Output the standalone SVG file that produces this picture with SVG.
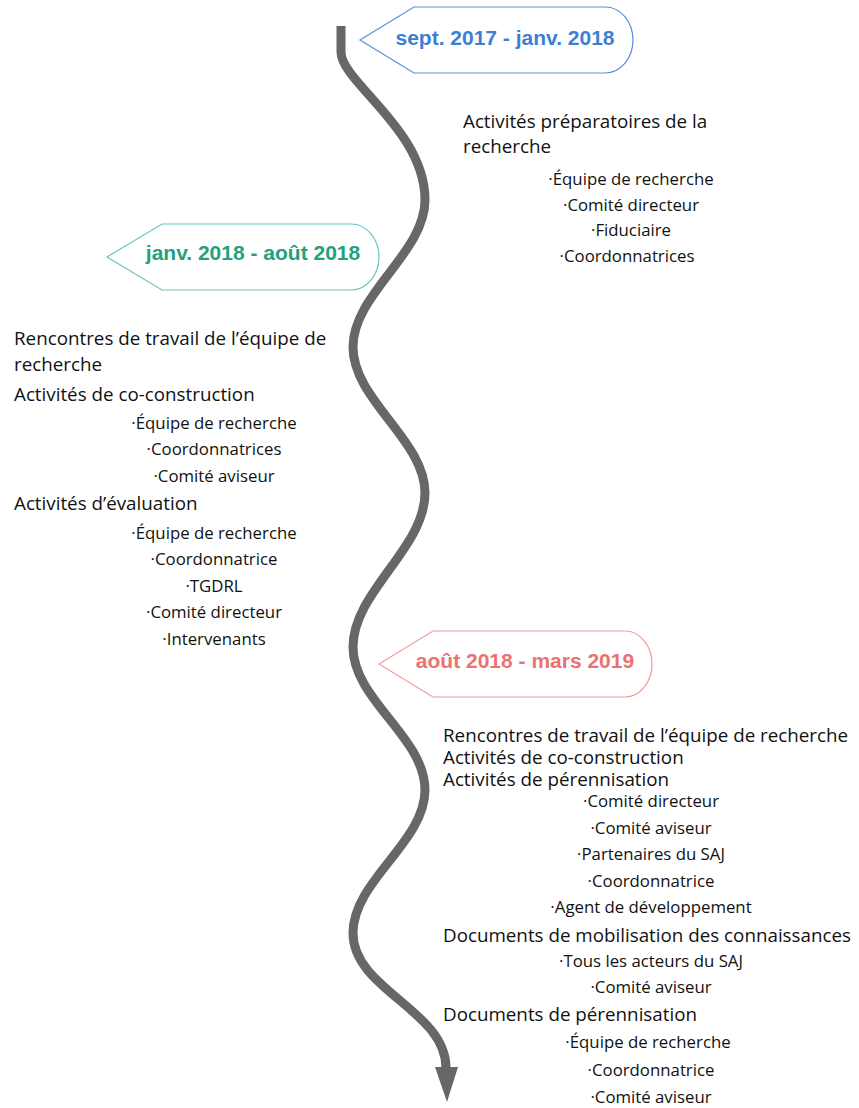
<svg xmlns="http://www.w3.org/2000/svg" width="859" height="1108" viewBox="0 0 859 1108">
<style>
.lbl{font-family:"Liberation Sans",Arial,sans-serif;font-weight:bold;font-size:21px}
.t{font-family:"Open Sans",Lato,sans-serif;font-size:18.8px;fill:#111}
.b{font-family:"Open Sans",Lato,sans-serif;font-size:16.8px;fill:#111;text-anchor:middle}
.tl{fill:none;stroke:#676767;stroke-width:9}
</style>
<rect width="859" height="1108" fill="#fff"/>
<g id="connectors">
<path class="tl" d="M341,26 L341,52 C341,82 425,130 425,200 C425,253 353,294 353,347 C353,400 425,440 425,493 C425,548 353,592 353,647 C353,700 425,737 425,790 C425,842 353,881 353,933 C353,990 446,1010 446,1068"/>
<polygon points="435,1067 458,1067 447,1102" fill="#676767"/>
</g>
<g id="label1">
<path d="M360,40 L414,7 L605,7 A28,33 0 0 1 605,73 L414,73 Z" fill="#fff" stroke="#5b8fd9" stroke-width="1.2"/>
<text class="lbl" x="505" y="45" text-anchor="middle" fill="#3c7fd4">sept. 2017 - janv. 2018</text>
</g>
<g id="label2">
<path d="M107,257 L162,224 L351,224 A28,33 0 0 1 351,290 L162,290 Z" fill="#fff" stroke="#6cc3c3" stroke-width="1.2"/>
<text class="lbl" x="253" y="260" text-anchor="middle" fill="#23a07d">janv. 2018 - août 2018</text>
</g>
<g id="label3">
<path d="M379,664 L433,631 L625,631 A27,33 0 0 1 625,697 L433,697 Z" fill="#fff" stroke="#f09a9a" stroke-width="1.2"/>
<text class="lbl" x="525" y="668" text-anchor="middle" fill="#ec7272">août 2018 - mars 2019</text>
</g>
<g id="group1">
<text class="t" x="463" y="128">Activités préparatoires de la</text>
<text class="t" x="463" y="153">recherche</text>
<text class="b" x="631" y="185">·Équipe de recherche</text>
<text class="b" x="631" y="211">·Comité directeur</text>
<text class="b" x="631" y="236">·Fiduciaire</text>
<text class="b" x="627" y="262">·Coordonnatrices</text>
</g>
<g id="group2">
<text class="t" x="14" y="345">Rencontres de travail de l’équipe de</text>
<text class="t" x="14" y="371">recherche</text>
<text class="t" x="14" y="401">Activités de co-construction</text>
<text class="b" x="214" y="429">·Équipe de recherche</text>
<text class="b" x="214" y="455">·Coordonnatrices</text>
<text class="b" x="214" y="482">·Comité aviseur</text>
<text class="t" x="14" y="510">Activités d’évaluation</text>
<text class="b" x="214" y="539">·Équipe de recherche</text>
<text class="b" x="214" y="565">·Coordonnatrice</text>
<text class="b" x="214" y="592">·TGDRL</text>
<text class="b" x="214" y="618">·Comité directeur</text>
<text class="b" x="214" y="645">·Intervenants</text>
</g>
<g id="group3">
<text class="t" x="443" y="742">Rencontres de travail de l’équipe de recherche</text>
<text class="t" x="443" y="764">Activités de co-construction</text>
<text class="t" x="443" y="786">Activités de pérennisation</text>
<text class="b" x="651" y="807">·Comité directeur</text>
<text class="b" x="651" y="834">·Comité aviseur</text>
<text class="b" x="651" y="860">·Partenaires du SAJ</text>
<text class="b" x="651" y="887">·Coordonnatrice</text>
<text class="b" x="651" y="913">·Agent de développement</text>
<text class="t" x="443" y="942">Documents de mobilisation des connaissances</text>
<text class="b" x="651" y="967">·Tous les acteurs du SAJ</text>
<text class="b" x="651" y="993">·Comité aviseur</text>
<text class="t" x="443" y="1021">Documents de pérennisation</text>
<text class="b" x="648" y="1048">·Équipe de recherche</text>
<text class="b" x="651" y="1076">·Coordonnatrice</text>
<text class="b" x="651" y="1103">·Comité aviseur</text>
</g>
</svg>
